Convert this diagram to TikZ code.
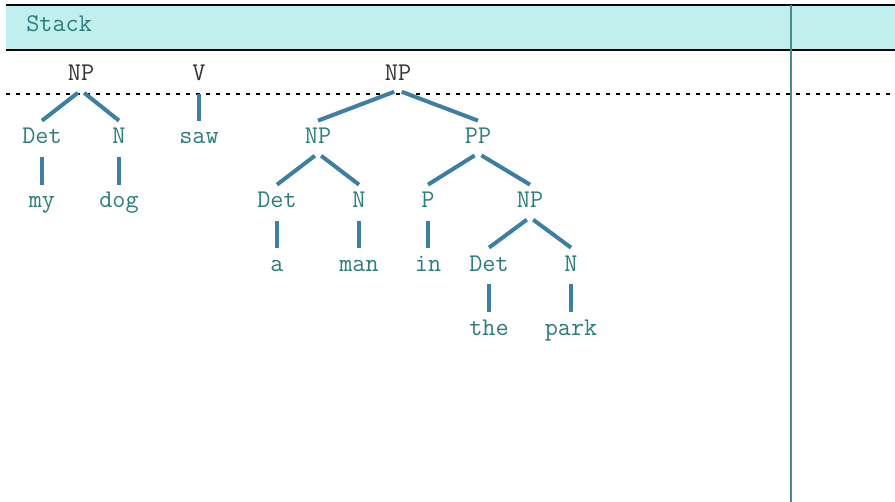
\documentclass[tikz,border=0pt]{standalone}
\usepackage{fontspec}
\definecolor{bandfill}{HTML}{C0EFEE}
\definecolor{labelteal}{HTML}{2B7D7B}
\definecolor{edgeblue}{HTML}{3C7FA3}
\definecolor{ruleteal}{HTML}{4A8A8A}
\tikzset{
  cat/.style={text=labelteal, font=\ttfamily\fontsize{14.5}{16}\selectfont,
    text height=2.3ex, text depth=0.45ex, minimum height=0.64cm, inner sep=0pt},
  top/.style={cat, text=black!80},
  edge/.style={draw=edgeblue, line width=0.08cm, shorten <=0.08cm}
}
\begin{document}
\begin{tikzpicture}[x=0.02cm, y=-0.02cm]
    \useasboundingbox (0, 0) rectangle (895, 502);
    % stack header
    \fill[bandfill] (6, 5) rectangle (895, 50);
    \draw[line width=0.04cm] (6, 5) -- (895, 5);
    \draw[line width=0.04cm] (6, 50) -- (895, 50);
    \node[cat, anchor=west] (stack) at (26, 25) {Stack};
    \draw[ruleteal, line width=0.04cm] (791, 5) -- (791, 502);
    \draw[line width=0.04cm, dash pattern=on 0.08cm off 0.12cm] (6, 94) -- (895, 94);

    % items on the stack
    \node[top] (np1) at (81, 74) {NP};
    \node[top] (v) at (199, 74) {V};
    \node[top] (np3) at (398, 74) {NP};

    % first NP
    \node[cat] (det1) at (42, 137) {Det};
    \node[cat] (n1) at (119, 137) {N};
    \node[cat] (my) at (42, 201) {my};
    \node[cat] (dog) at (119, 201) {dog};
    % V
    \node[cat] (saw) at (199, 137) {saw};
    % last NP
    \node[cat] (np4) at (318, 137) {NP};
    \node[cat] (pp) at (478, 137) {PP};
    \node[cat] (det2) at (277, 201) {Det};
    \node[cat] (n2) at (359, 201) {N};
    \node[cat] (p) at (428, 201) {P};
    \node[cat] (np5) at (530, 201) {NP};
    \node[cat] (a) at (277, 264) {a};
    \node[cat] (man) at (359, 264) {man};
    \node[cat] (in) at (428, 264) {in};
    \node[cat] (det3) at (489, 264) {Det};
    \node[cat] (n3) at (571, 264) {N};
    \node[cat] (the) at (489, 328) {the};
    \node[cat] (park) at (571, 328) {park};

    \foreach \u/\w in {np1/det1, np1/n1, det1/my, n1/dog, v/saw,
        np3/np4, np3/pp, np4/det2, np4/n2, pp/p, pp/np5,
        det2/a, n2/man, p/in, np5/det3, np5/n3, det3/the, n3/park} {
      \draw[edge] (\u.south) -- (\w.north);
    }
  \end{tikzpicture}
\end{document}
